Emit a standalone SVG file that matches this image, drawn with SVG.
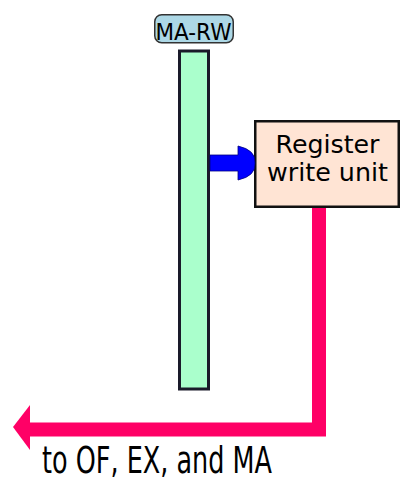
<svg xmlns="http://www.w3.org/2000/svg" width="412" height="495" viewBox="0 0 412 495">
<style>
text{font-family:"DejaVu Sans","Liberation Sans",sans-serif;fill:#000}
.lbl{fill:#add8e6;stroke:#333;stroke-width:1.5}
.bar{fill:#aaffcc;stroke:#1a1a2a;stroke-width:3}
.unit{fill:#ffe4d4;stroke:#111;stroke-width:2.5}
.pink{fill:none;stroke:#ff0066;stroke-width:14;stroke-linejoin:miter}
</style>
<rect width="412" height="495" fill="#fff"/>
<g id="ma-rw">
<rect class="lbl" x="154.75" y="14.75" width="78.5" height="28" rx="7"/>
<text x="193.5" y="40" font-size="23" text-anchor="middle" textLength="76" lengthAdjust="spacingAndGlyphs">MA-RW</text>
<rect class="bar" x="179.5" y="51" width="29" height="338"/>
</g>
<g id="register-write-unit">
<rect class="unit" x="255.25" y="121.25" width="143.5" height="85.5"/>
<text x="327.5" y="152.5" font-size="24.5" text-anchor="middle" textLength="104" lengthAdjust="spacingAndGlyphs">Register</text>
<text x="327.5" y="180.5" font-size="24.5" text-anchor="middle" textLength="121" lengthAdjust="spacingAndGlyphs">write unit</text>
</g>
<g id="connectors">
<path d="M210 155 H238 V146 Q256 150 255 163 Q256 176 238 180 V171 H210 Z" fill="#0000ff" stroke="#000080" stroke-width="0.8"/>
<path class="pink" d="M319 208 V429.5 H28"/>
<polygon points="30,405 13,427 30,450" fill="#ff0066"/>
</g>
<g id="output-label">
<text x="42" y="473" font-size="38" textLength="230" lengthAdjust="spacingAndGlyphs">to OF, EX, and MA</text>
</g>
</svg>
